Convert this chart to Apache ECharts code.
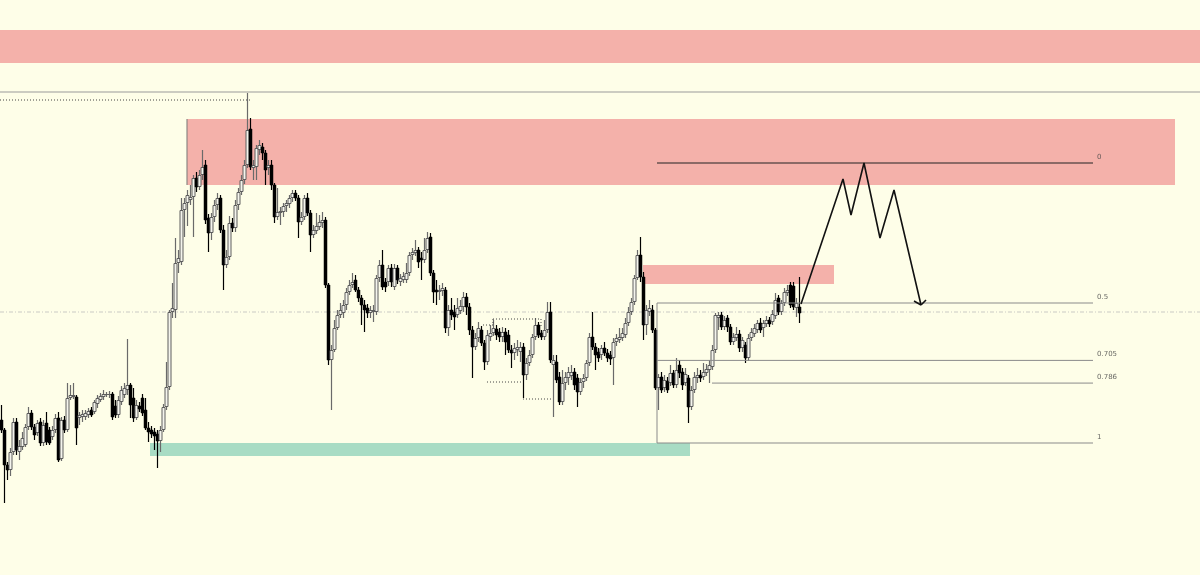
<!DOCTYPE html>
<html><head><meta charset="utf-8">
<script src="https://cdn.jsdelivr.net/npm/echarts@6/dist/echarts.min.js"></script>
<style>html,body{margin:0;padding:0;background:#FEFEE8;} #c{width:1200px;height:575px;}</style>
</head><body><div id="c"></div>
<script>
// Candles: [open, close, low, high] (price units)
const candles = [
[180,170,167,195],[170,135,97,172],[135,130,120,138],[130,148,124,152],[148,178,145,182],[178,150,145,182],[148,154,140,160],[153,162,150,168],[155,173,153,176],[173,187,170,193],
[187,173,170,190],[173,165,160,176],[167,177,164,180],[178,157,154,182],[157,175,154,180],[177,158,155,188],[170,157,155,173],[163,170,160,174],[170,182,167,186],[182,140,138,188],
[141,180,139,183],[180,170,167,184],[170,202,168,217],[202,205,200,215],[203,205,201,217],[203,172,155,205],[182,185,175,188],[183,186,178,190],[183,187,180,190],[185,189,182,192],
[190,185,183,193],[188,198,186,200],[196,202,192,205],[200,204,198,207],[203,206,200,210],[205,206,203,208],[205,206,202,209],[206,183,180,208],[194,185,182,200],[185,200,182,204],
[198,210,195,214],[205,212,202,217],[210,215,205,261],[215,195,182,217],[202,182,178,212],[182,195,180,200],[194,191,188,198],
[202,187,184,206],[190,172,170,202],[172,168,158,178],[170,166,162,174],[168,164,150,172],[166,159,132,170],[159,170,148,174],[170,193,168,196],[193,213,190,238],[213,288,210,290],
[288,292,282,317],[290,337,282,362],[337,342,327,350],[338,390,335,402],[390,397,363,402],[397,405,374,410],[400,403,395,415],[403,422,363,425],[422,413,408,428],[413,425,410,430],
[425,433,420,450],[435,380,376,440],[382,367,348,386],[367,383,360,387],[383,395,378,400],[395,402,390,407],[402,370,367,405],[370,335,310,375],[335,343,332,350],[343,377,340,384],
[377,372,368,382],[372,395,368,400],[395,408,390,412],[408,420,405,425],[420,435,416,440],[435,470,432,507],[471,433,430,482],[432,435,420,440],[433,452,420,455],[450,455,445,460],
[453,447,440,457],[447,430,415,450],
[432,435,425,440],[435,415,410,440],[415,383,377,417],[383,388,380,412],[387,389,375,393],[388,394,383,397],[394,397,388,400],[396,402,392,405],[402,407,398,410],[407,402,399,410],
[402,378,362,405],[378,383,375,388],[383,402,380,405],[402,387,384,407],[387,365,348,390],[365,370,362,375],[369,374,366,387],[373,378,370,385],[377,380,372,388],[380,315,312,383],
[315,240,235,317],[240,250,190,255],[250,272,248,280],[272,285,270,290],[285,290,282,297],[287,295,282,300],[295,308,290,312],[308,315,305,320],[315,318,312,327],[320,310,308,325],
[310,302,298,313],[302,295,275,305],[295,290,268,300],[292,287,282,296],[287,290,282,294],[288,290,278,295],[288,322,285,325],[322,335,318,340],[335,313,310,350],[318,313,308,322],
[318,332,314,335],[332,318,313,336],[313,332,310,336],[332,320,316,335],
[318,322,314,326],[320,324,317,328],[320,327,317,337],[327,345,324,348],[345,348,340,352],[347,350,344,360],[350,338,332,353],[342,340,320,348],[340,350,337,362],[350,362,347,368],
[363,327,324,367],[327,308,297,330],[310,308,295,320],[308,310,300,315],[309,312,304,317],[310,272,267,313],[272,290,264,295],[290,285,280,302],[288,283,270,295],[285,292,282,302],
[289,294,286,300],[293,303,288,308],[303,293,285,307],[293,270,265,297],[270,253,222,274],[253,262,250,267],[262,272,258,278],[270,257,254,274],[257,238,230,260],[238,265,235,270],
[263,267,259,275],[267,272,264,280],[271,265,260,275],[268,263,258,272],[263,268,258,273],[268,258,245,272],[265,250,247,270],[250,247,232,255],[247,252,240,257],[250,253,244,260],
[248,253,238,258],[253,225,202,257],[225,237,220,242],
[237,245,234,250],[245,263,242,266],[263,275,260,282],[275,265,262,278],[267,263,260,270],[263,270,260,280],[270,288,267,298],[288,240,237,298],[235,240,183,245],[238,220,217,245],
[223,198,195,228],[198,217,195,230],[217,223,210,228],[222,228,215,233],[224,228,220,235],[228,215,210,232],[222,208,193,226],[208,218,205,222],[218,222,212,226],[222,237,219,240],
[237,263,234,267],[263,253,250,288],[253,245,230,257],[248,242,238,252],[245,252,240,255],[252,247,244,258],[247,242,238,251],[245,241,235,249],[242,258,215,262],[258,262,254,266],
[260,263,257,272],[262,267,259,272],[265,277,262,282],[277,288,274,293],[288,298,285,302],[298,322,295,325],[322,345,320,350],[345,323,318,363],[323,275,260,328],[275,290,265,295],
[288,292,284,300],[290,270,267,295],[270,212,210,272],
[212,223,190,226],[223,210,207,228],[212,220,208,225],[219,210,207,223],[217,227,214,235],[227,215,212,230],[215,230,212,242],[235,227,222,240],[228,215,210,232],[217,226,214,232],
[222,193,177,225],[193,210,190,214],[210,223,207,228],[222,225,217,232],[225,222,218,230],[223,228,220,237],[227,231,224,236],[230,235,217,240],[233,250,230,255],[250,285,247,287],
[282,285,270,288],[285,273,270,288],[273,280,270,284],[282,273,268,285],[273,258,255,276],[258,263,255,267],[262,266,259,273],[266,252,248,270],[252,260,248,263],[255,242,237,258],
[242,262,239,266],[262,268,259,272],[266,272,263,276],[270,277,267,280],[277,270,267,282],[272,277,263,280],[276,280,273,284],[280,276,273,283],[278,286,275,290],[284,300,281,307],
[302,288,285,305],[288,297,285,300],[297,308,294,312],[307,310,304,315],[315,295,292,318],[314,293,290,318],[292,297,283,302],[293,287,277,323]
];
const barCount = 400;
const categories = Array.from({length: barCount}, (_, i) => 'b' + i);

// Fibonacci retracement
const fibLevels = [0, 0.5, 0.705, 0.786, 1];
const fibLabels = ['0', '0.5', '0.705', '0.786', '1'];
const fibHigh = 437, fibLow = 157;
const fibStart = 218.5, fibEnd = 363.83, fib786Start = 236.83, fibLabelX = 365.17;

// Zones [x1, x2, priceLow, priceHigh] in bar units
const redZones = [[-0.5, 399.5, 537, 570], [61.83, 391.17, 415, 481], [213.83, 277.5, 316, 335]];
const greenZones = [[49.5, 229.5, 144, 157]];

// Projection path (bar, price)
const projBars = [266.5, 280.5, 283.17, 287.5, 292.83, 297.5, 306.5];
const projPrices = [296, 421, 385, 437, 362, 410, 295];
const arrowHead = [[[304.17, 299], [306.5, 295]], [[308.17, 300], [306.5, 295]]];

// Other reference lines
const topLine = 508, dottedHigh = 500, bidLine = 288;
const dottedSegs = [
  [[-0.5, dottedHigh], [82.83, dottedHigh]],
  [[163.83, 281], [179.83, 281]], [[160.5, 275], [163.83, 275]], [[163.83, 281], [163.83, 275]],
  [[179.83, 281], [179.83, 274]],
  [[161.83, 218], [173.83, 218]], [[173.83, 201], [183.83, 201]]
];

const fibPrice = l => fibHigh - l * (fibHigh - fibLow);
const series = [];
function seg(pts, color, width, type, z) {
  series.push({type: 'line', xAxisIndex: 1, yAxisIndex: 0, data: pts, showSymbol: false, symbol: 'none',
    silent: true, z: z || 3, lineStyle: {color: color, width: width, type: type || 'solid'}, animation: false});
}
// zones
series.push({type: 'line', xAxisIndex: 1, yAxisIndex: 0, data: [], silent: true, z: 1,
  markArea: {silent: true, data:
    redZones.map(r => [{coord: [r[0], r[2]], itemStyle: {color: '#F4B1AA'}}, {coord: [r[1], r[3]]}])
    .concat(greenZones.map(r => [{coord: [r[0], r[2]], itemStyle: {color: '#A8DCC4'}}, {coord: [r[1], r[3]]}]))
  }});
seg([[-0.5, topLine], [399.5, topLine]], '#9a9a9a', 1, 'solid', 1);
seg([[-0.5, bidLine], [399.5, bidLine]], '#b5b5b5', 0.7, [4, 2, 1, 2], 1);
dottedSegs.forEach(s => seg(s, '#444', 1, [1, 2], 3));
seg([[61.83, 481], [61.83, 415]], '#777', 1, 'solid', 2);
// fib
fibLevels.forEach((l, i) => {
  const p = fibPrice(l);
  const start = l === 0.786 ? fib786Start : fibStart;
  seg([[start, p], [fibEnd, p]], l === 0 ? '#222' : '#8a8a8a', 1, 'solid', 3);
});
seg([[fibStart, fibPrice(0.5)], [fibStart, fibPrice(1)]], '#8a8a8a', 1, 'solid', 3);
series.push({type: 'scatter', xAxisIndex: 1, yAxisIndex: 0, symbolSize: 0, silent: true, z: 4,
  data: fibLevels.map((l, i) => ({value: [fibLabelX, fibPrice(l) + 6], name: fibLabels[i]})),
  label: {show: true, position: 'right', distance: 0, formatter: p => p.name, fontSize: 7,
    fontFamily: 'DejaVu Sans', color: '#444'}});
// projection
seg(projBars.map((b, i) => [b, projPrices[i]]), '#111', 1.6, 'solid', 5);
arrowHead.forEach(a => seg(a, '#111', 1.6, 'solid', 5));

// candles drawn through the category axis and price axis
function renderCandle(params, api) {
  const i = api.value(0), o = api.value(1), c = api.value(2), l = api.value(3), h = api.value(4);
  const pO = api.coord([i, o]), pC = api.coord([i, c]), pL = api.coord([i, l]), pH = api.coord([i, h]);
  const cx = Math.floor(pO[0]) + 0.5;
  const up = c >= o;
  const top = Math.round(Math.min(pO[1], pC[1])), bot = Math.round(Math.max(pO[1], pC[1]));
  const children = [{type: 'line', shape: {x1: cx, y1: Math.round(pH[1]), x2: cx, y2: Math.round(pL[1])},
    style: {stroke: up ? '#6a6a6a' : '#000000', lineWidth: 1.2}}];
  if (up) {
    children.push({type: 'rect', shape: {x: cx - 1.5, y: top + 0.5, width: 3, height: Math.max(bot - top - 1, 0)},
      style: {fill: '#F4F4EC', stroke: '#5e5e5e', lineWidth: 1}});
  } else {
    children.push({type: 'rect', shape: {x: cx - 1.5, y: top, width: 3, height: Math.max(bot - top, 1)},
      style: {fill: '#000000', stroke: '#000000', lineWidth: 0.5}});
  }
  return {type: 'group', children: children};
}
series.push({type: 'custom', xAxisIndex: 0, yAxisIndex: 0, z: 2, silent: true,
  data: candles.map((d, i) => [i].concat(d)), encode: {x: 0, y: [1, 2, 3, 4]}, renderItem: renderCandle});

const chart = echarts.init(document.getElementById('c'), null, {renderer: 'canvas'});
chart.setOption({
  animation: false,
  backgroundColor: '#FEFEE8',
  grid: {left: 0, right: 0, top: 0, bottom: 0},
  xAxis: [
    {type: 'category', data: categories, show: false, boundaryGap: true},
    {type: 'value', min: -0.5, max: 399.5, show: false}
  ],
  yAxis: [{type: 'value', min: 25, max: 600, show: false, splitLine: {show: false}}],
  series: series
});
</script>
</body></html>
